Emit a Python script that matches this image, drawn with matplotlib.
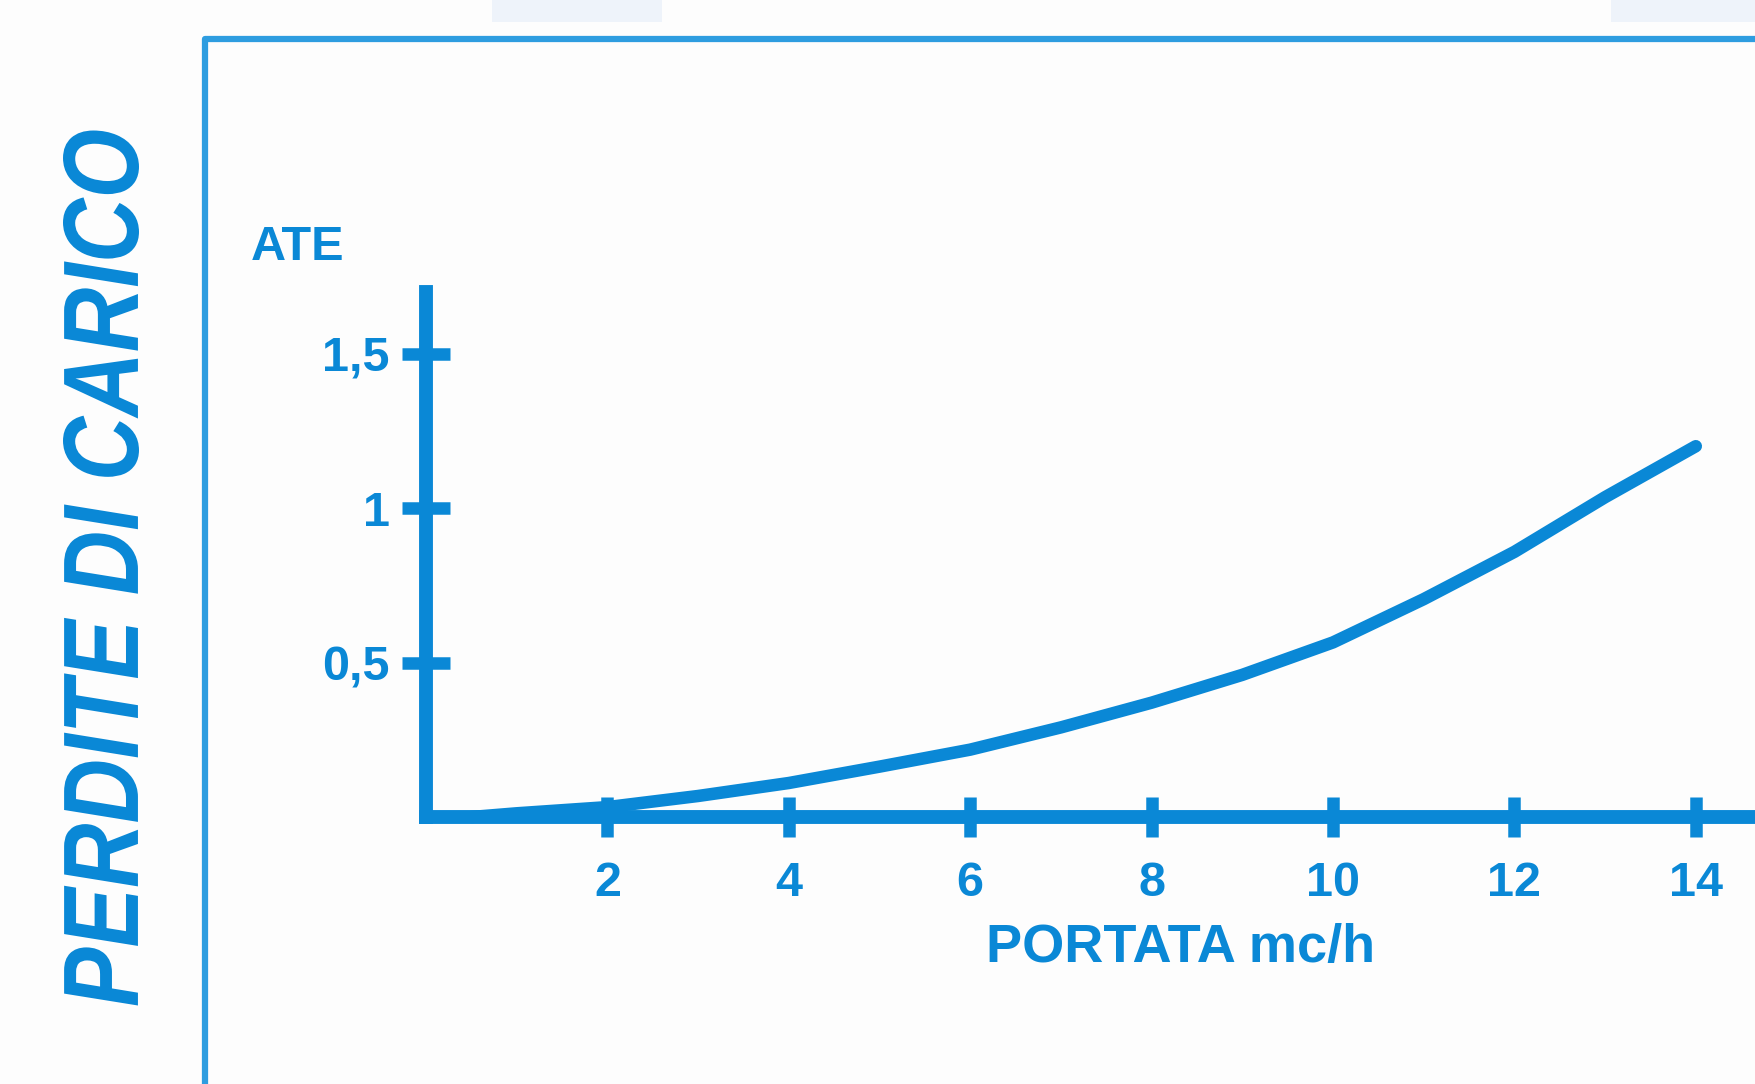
import matplotlib.pyplot as plt
from matplotlib.lines import Line2D
from matplotlib.patches import Rectangle, PathPatch
from matplotlib.textpath import TextPath
from matplotlib.font_manager import FontProperties
from matplotlib.transforms import Affine2D

# data (portata in mc/h, perdite di carico)
portata = [0.5, 1, 2, 3, 4, 5, 6, 7, 8, 9, 10, 11, 12, 13, 14]
perdite = [0.0, 0.012, 0.032, 0.068, 0.11, 0.163, 0.218, 0.29, 0.37, 0.46, 0.565, 0.705, 0.858, 1.035, 1.2]
x_ticks = [2, 4, 6, 8, 10, 12, 14]
y_ticks = [0.5, 1, 1.5]
y_labels = ['0,5', '1', '1,5']

blue = '#0a88d6'
frame_blue = '#2e9de0'

plt.rcParams['font.family'] = ['Liberation Sans', 'DejaVu Sans']

W, H = 1755, 1084
fig = plt.figure(figsize=(W / 100, H / 100), dpi=100)
fig.patch.set_facecolor('#fdfdfd')

# faint strip at the very top
fig.patches.append(Rectangle((492 / W, 1 - 22 / H), 170 / W, 22 / H, transform=fig.transFigure,
                             facecolor='#eef3fa', edgecolor='none'))
fig.patches.append(Rectangle((1611 / W, 1 - 22 / H), 144 / W, 22 / H, transform=fig.transFigure,
                             facecolor='#eef3fa', edgecolor='none'))

# outer frame
fig.add_artist(Line2D([205 / W, 205 / W, 1], [0, 1 - 39 / H, 1 - 39 / H],
                      transform=fig.transFigure, color=frame_blue, linewidth=4.5))

# axes: x=0 at px 426, y=0 at px 817 from top
px_x = 90.7
px_y = 309.0
x0, y0 = 426, 817
xmax = (W - x0) / px_x
ymax = 1.70
ax = fig.add_axes([x0 / W, (H - y0) / H, (W - x0) / W, ymax * px_y / H])
ax.set_facecolor('none')
ax.set_xlim(0, xmax)
ax.set_ylim(0, ymax)

for s in ['top', 'right']:
    ax.spines[s].set_visible(False)
for s in ['left', 'bottom']:
    ax.spines[s].set_color(blue)
    ax.spines[s].set_linewidth(10)
    ax.spines[s].set_capstyle('projecting')

ax.plot(portata, perdite, color=blue, linewidth=9, solid_capstyle='round',
        solid_joinstyle='round', clip_on=False)

ax.set_xticks(x_ticks)
ax.set_xticklabels([str(t) for t in x_ticks])
ax.set_yticks(y_ticks)
ax.set_yticklabels(y_labels)
ax.tick_params(axis='x', direction='inout', length=29, width=9, color=blue,
               labelcolor=blue, labelsize=35, pad=17)
ax.tick_params(axis='y', direction='inout', length=34, width=9, color=blue,
               labelcolor=blue, labelsize=35, pad=9)
for lab in ax.get_xticklabels() + ax.get_yticklabels():
    lab.set_fontweight('bold')

fig.text(298 / W, 1 - 248 / H, 'ATE', color=blue, fontsize=35, fontweight='bold',
         ha='center', va='center')
fig.text(1181 / W, 1 - 948 / H, 'PORTATA mc/h', color=blue, fontsize=39, fontweight='bold',
         ha='center', va='center')

# big vertical title, squeezed along its length like the condensed original
tp = TextPath((0, 0), 'PERDITE DI CARICO', size=100,
              prop=FontProperties(family='Liberation Sans', style='italic', weight='bold'))
bb = tp.get_extents()
length, cap = 875, 76
cx, cy = 101, H - 568
tr = (Affine2D()
      .translate(-(bb.x0 + bb.x1) / 2, -(bb.y0 + bb.y1) / 2)
      .scale(length / bb.width, cap / bb.height)
      .rotate_deg(90)
      .translate(cx, cy))
fig.add_artist(PathPatch(tp, transform=tr, facecolor=blue, edgecolor='none'))

fig.savefig('out.png', dpi=100)
